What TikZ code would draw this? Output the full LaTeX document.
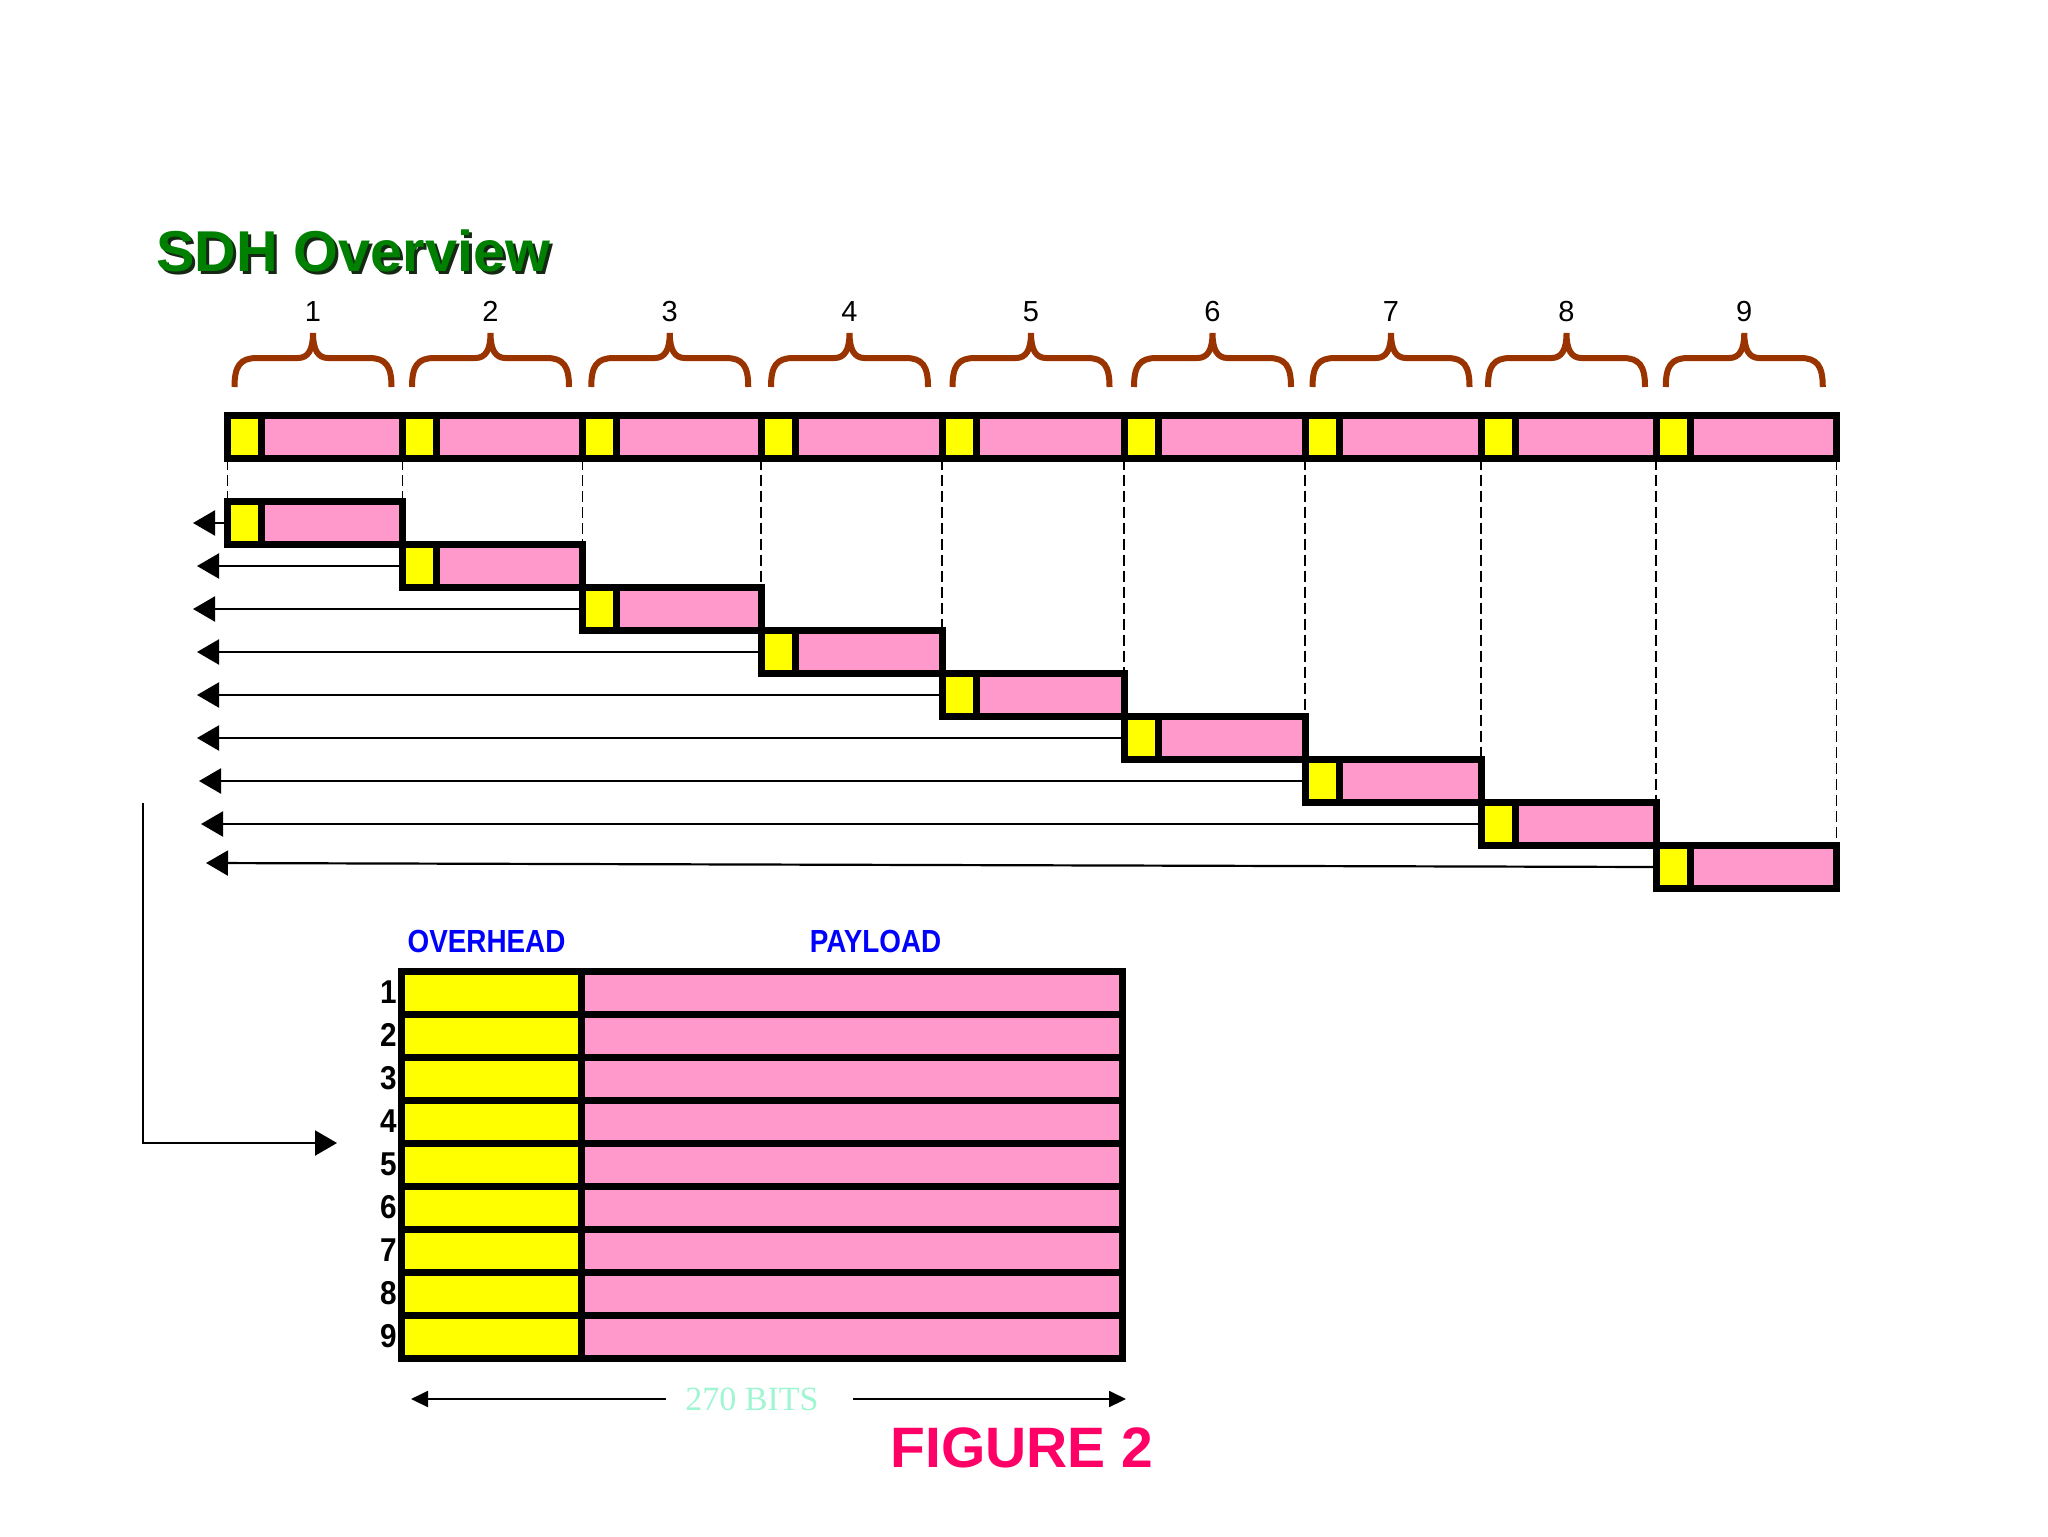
\documentclass[tikz,border=0pt]{standalone}
\usepackage{fontspec}
\setmainfont{Liberation Sans}
\newfontfamily\seriffont{Liberation Serif}
\usetikzlibrary{arrows.meta,fit,backgrounds}
\definecolor{ohyellow}{RGB}{255,255,0}
\definecolor{plpink}{RGB}{255,153,204}
\definecolor{bracebrown}{RGB}{153,51,0}
\definecolor{titlegreen}{RGB}{0,128,0}
\definecolor{titleshadow}{RGB}{20,40,20}
\definecolor{lblblue}{RGB}{0,0,255}
\definecolor{figred}{RGB}{255,0,102}
\definecolor{bitsaqua}{RGB}{160,245,210}
\begin{document}
\begin{tikzpicture}[x=0.5pt,y=-0.5pt,
  cell/.style={draw=black,line width=3.5pt,inner sep=0pt,outer sep=0pt},
  ohcell/.style={cell,fill=ohyellow},
  plcell/.style={cell,fill=plpink},
  flowarrow/.style={draw=black,line width=1.1pt,-{Triangle[length=11pt,width=12.5pt]}},
  dimarrow/.style={draw=black,line width=1pt,-{Triangle[length=8.5pt,width=8pt]}},
  dashline/.style={draw=black,line width=0.9pt,dash pattern=on 5.5pt off 2.5pt},
  bracestyle/.style={draw=bracebrown,line width=3pt,line cap=butt},
  numlbl/.style={inner sep=0pt,font=\fontsize{14.5pt}{16pt}\selectfont},
  rowlbl/.style={inner sep=0pt,font=\fontsize{16.5pt}{18pt}\selectfont\bfseries},
  collbl/.style={inner sep=0pt,text=lblblue,font=\fontsize{16pt}{18pt}\selectfont\bfseries},
  titlelbl/.style={inner sep=0pt,font=\fontsize{28.8pt}{30pt}\selectfont\bfseries},
  figlbl/.style={inner sep=0pt,text=figred,font=\fontsize{28.5pt}{30pt}\selectfont\bfseries},
  bitslbl/.style={inner sep=0pt,text=bitsaqua,font=\fontsize{17pt}{19pt}\selectfont\seriffont}
]
\useasboundingbox (0,0) rectangle (2048,1536);

% title
\node[titlelbl,text=titleshadow,anchor=base west] (tshadow) at (159,274) {SDH Overview};
\node[titlelbl,text=titlegreen,anchor=base west] (title) at (156,271) {SDH Overview};

% top bar segments
\foreach \k/\a/\b in {1/227.5/402.5,2/402.5/582.5,3/582.5/761,4/761/942,5/942/1124,6/1124/1305,7/1305/1481,8/1481/1656,9/1656/1836.5}{
  \node[plcell,fit={(\a,415.5) (\b,458.5)}] (s\k) {};
  \node[ohcell,fit={(\a,415.5) ({\a+34},458.5)}] (sy\k) {};
  % brace and number
  \pgfmathsetmacro\c{(\a+\b)/2-2}
  \draw[bracestyle] ({\c-78.5},387) .. controls ({\c-78.5},366) and ({\c-73},358) .. ({\c-56},358)
     -- ({\c-15},358) .. controls ({\c-5},358) and (\c,350) .. (\c,333)
     .. controls (\c,350) and ({\c+5},358) .. ({\c+15},358)
     -- ({\c+56},358) .. controls ({\c+73},358) and ({\c+78.5},366) .. ({\c+78.5},387);
  \node[numlbl,anchor=base] (b\k) at (\c,321) {\k};
}

% staircase rows
\foreach \k/\a/\b in {1/227.5/402.5,2/402.5/582.5,3/582.5/761,4/761/942,5/942/1124,6/1124/1305,7/1305/1481,8/1481/1656,9/1656/1836.5}{
  \pgfmathsetmacro\yt{501.5+(\k-1)*43}
  \pgfmathsetmacro\yb{\yt+43}
  \node[plcell,fit={(\a,\yt) (\b,\yb)}] (r\k) {};
  \node[ohcell,fit={(\a,\yt) ({\a+34},\yb)}] (ry\k) {};
}

% arrow ends
\foreach \k/\tx/\ty in {1/193/523,2/197/566,3/193/609,4/197/652,5/197/695,6/197/738,7/199/781,8/201/824,9/206/863}{
  \coordinate (t\k) at (\tx,\ty);
}

% frame table
\foreach \k in {1,...,9}{
  \pgfmathsetmacro\yt{971.5+(\k-1)*43}
  \pgfmathsetmacro\yb{\yt+43}
  \node[ohcell,fit={(401.5,\yt) (581,\yb)}] (oh\k) {};
  \node[plcell,fit={(581,\yt) (1122.5,\yb)}] (pl\k) {};
  \node[rowlbl,anchor=base east] (n\k) at (397,{\yt+31.5}) {\scalebox{0.9}[1]{\k}};
}
\node[collbl,anchor=base] (ohl) at (486.5,952) {\scalebox{0.87}[1]{OVERHEAD}};
\node[collbl,anchor=base] (pll) at (875.5,952) {\scalebox{0.87}[1]{PAYLOAD}};

% feed arrow
\coordinate (fs) at (143,803);
\coordinate (fe) at (337,1143);
\draw[flowarrow] (fs) |- (fe);

% dimension
\node[bitslbl,anchor=base] (bits) at (752,1410) {270 BITS};
\coordinate (dl) at (411,1399);
\coordinate (dlg) at (666,1399);
\coordinate (drg) at (853,1399);
\coordinate (dr) at (1126,1399);
\draw[dimarrow] (dlg) -- (dl);
\draw[dimarrow] (drg) -- (dr);

\node[figlbl,anchor=base west] (fig) at (890,1467) {FIGURE 2};

\begin{scope}[on background layer]
  \fill[white] (0,0) rectangle (2048,1536);
  \draw[dashline] (s1.south west) -- (r1.north west);
  \foreach \k in {1,...,9}{
    \draw[dashline] (s\k.south east) -- (r\k.north east);
    \draw[flowarrow] (r\k.west) -- (t\k);
  }
\end{scope}
\end{tikzpicture}
\end{document}
